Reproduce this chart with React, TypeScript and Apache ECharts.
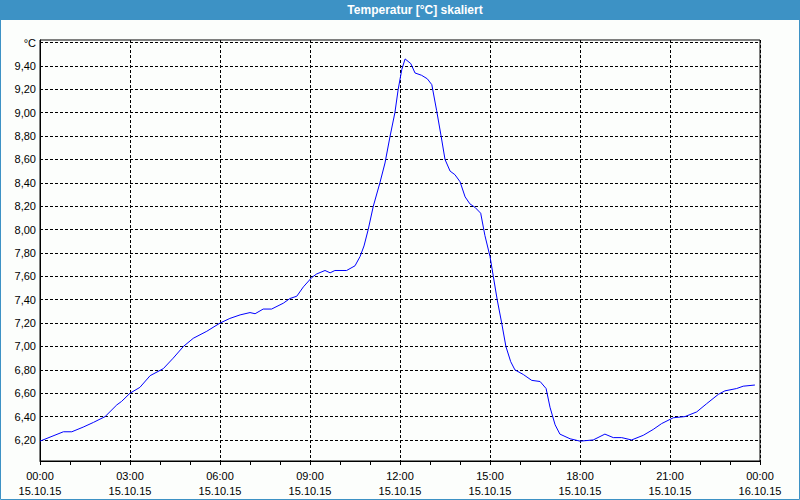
import React, { useEffect, useRef } from "react";
import * as echarts from "echarts";

const titleText = "Temperatur [°C] skaliert";
const unitLabel = "°C";
const hours = [0, 0.78, 1.06, 1.44, 1.78, 2.17, 2.56, 2.72, 3.0, 3.33, 3.67, 4.11, 4.44, 4.78, 5.11, 5.56, 6.0, 6.33, 6.67, 7.0, 7.17, 7.44, 7.72, 8.11, 8.33, 8.56, 8.78, 9.06, 9.22, 9.5, 9.67, 9.83, 10.22, 10.5, 10.67, 10.8, 10.94, 11.11, 11.33, 11.5, 11.67, 11.83, 11.94, 12.06, 12.17, 12.36, 12.5, 12.72, 12.91, 13.06, 13.22, 13.37, 13.5, 13.67, 13.83, 14.0, 14.17, 14.33, 14.5, 14.69, 14.83, 15.0, 15.11, 15.24, 15.39, 15.53, 15.69, 15.83, 16.11, 16.39, 16.67, 16.87, 17.0, 17.17, 17.33, 17.67, 18.0, 18.44, 18.83, 19.11, 19.39, 19.72, 20.11, 20.44, 20.72, 21.11, 21.5, 21.89, 22.22, 22.61, 22.83, 23.22, 23.44, 23.83];
const temps = [6.19, 6.27, 6.27, 6.31, 6.35, 6.40, 6.50, 6.53, 6.60, 6.65, 6.75, 6.81, 6.90, 7.00, 7.07, 7.13, 7.20, 7.24, 7.27, 7.29, 7.28, 7.32, 7.32, 7.37, 7.41, 7.43, 7.51, 7.59, 7.62, 7.65, 7.63, 7.65, 7.65, 7.69, 7.77, 7.86, 8.00, 8.20, 8.40, 8.57, 8.80, 9.00, 9.20, 9.37, 9.46, 9.42, 9.34, 9.32, 9.29, 9.24, 9.02, 8.80, 8.60, 8.50, 8.47, 8.41, 8.28, 8.22, 8.19, 8.14, 7.95, 7.77, 7.60, 7.40, 7.20, 7.00, 6.87, 6.80, 6.76, 6.71, 6.70, 6.64, 6.48, 6.33, 6.25, 6.21, 6.19, 6.20, 6.25, 6.22, 6.22, 6.20, 6.24, 6.29, 6.34, 6.39, 6.40, 6.44, 6.51, 6.59, 6.62, 6.64, 6.66, 6.67];
const yTicks = [6.2, 6.4, 6.6, 6.8, 7.0, 7.2, 7.4, 7.6, 7.8, 8.0, 8.2, 8.4, 8.6, 8.8, 9.0, 9.2, 9.4, 9.6];
const xTickLabels = ["00:00", "03:00", "06:00", "09:00", "12:00", "15:00", "18:00", "21:00", "00:00"];
const xDateLabels = ["15.10.15", "15.10.15", "15.10.15", "15.10.15", "15.10.15", "15.10.15", "15.10.15", "15.10.15", "16.10.15"];

const FONT = "Liberation Sans";
const BLUE = "#3d92c5";

export default function App() {
  const ref = useRef<HTMLDivElement>(null);
  useEffect(() => {
    if (!ref.current) return;
    const chart = echarts.init(ref.current, null, { renderer: "svg" });
    chart.setOption({
      animation: false,
      backgroundColor: "#fcfefc",
      textStyle: { fontFamily: FONT },
      graphic: [
        { type: "rect", shape: { x: 0, y: 0, width: 800, height: 20 }, style: { fill: BLUE } },
        {
          type: "text", x: 415, y: 10,
          style: { text: titleText, fill: "#fff", font: `bold 12px "${FONT}"`, textAlign: "center", textVerticalAlign: "middle" },
        },
        { type: "rect", shape: { x: 0.5, y: 0.5, width: 799, height: 499 }, style: { fill: "none", stroke: BLUE, lineWidth: 1 } },
      ],
      grid: { left: 40, top: 40, width: 720, height: 421, show: true, borderColor: "#000", borderWidth: 1, backgroundColor: "transparent" },
      xAxis: {
        type: "value", min: 0, max: 24, interval: 3,
        axisLine: { show: true, lineStyle: { color: "#000", width: 1 } },
        axisTick: { show: true, length: 4, lineStyle: { color: "#000" } },
        minorTick: { show: true, splitNumber: 3, length: 4, lineStyle: { color: "#000" } },
        splitLine: { show: true, lineStyle: { color: "#000", type: [3, 2], width: 1 } },
        axisLabel: {
          color: "#000", fontSize: 11, fontFamily: FONT, lineHeight: 15, margin: 7,
          formatter: (v: number) => { const i = Math.round(v / 3); return xTickLabels[i] + "\n" + xDateLabels[i]; },
        },
      },
      yAxis: {
        type: "value", min: 6.02, max: 9.622,
        axisLine: { show: true, lineStyle: { color: "#000", width: 1 } },
        axisTick: { show: false, customValues: yTicks },
        splitLine: { show: true, lineStyle: { color: "#000", type: [3, 2], width: 1 } },
        axisLabel: {
          customValues: yTicks, color: "#000", fontSize: 11, fontFamily: FONT, margin: 4,
          formatter: (v: number) => (Math.abs(v - 9.6) < 1e-6 ? unitLabel : v.toFixed(2).replace(".", ",")),
        },
      },
      series: [
        {
          type: "line", data: hours.map((h, i) => [h, temps[i]]), showSymbol: false,
          lineStyle: { color: "#0000ff", width: 1 }, smooth: false,
        },
      ],
    });
    return () => chart.dispose();
  }, []);
  return <div ref={ref} style={{ position: "fixed", left: 0, top: 0, width: 800, height: 500 }} />;
}
